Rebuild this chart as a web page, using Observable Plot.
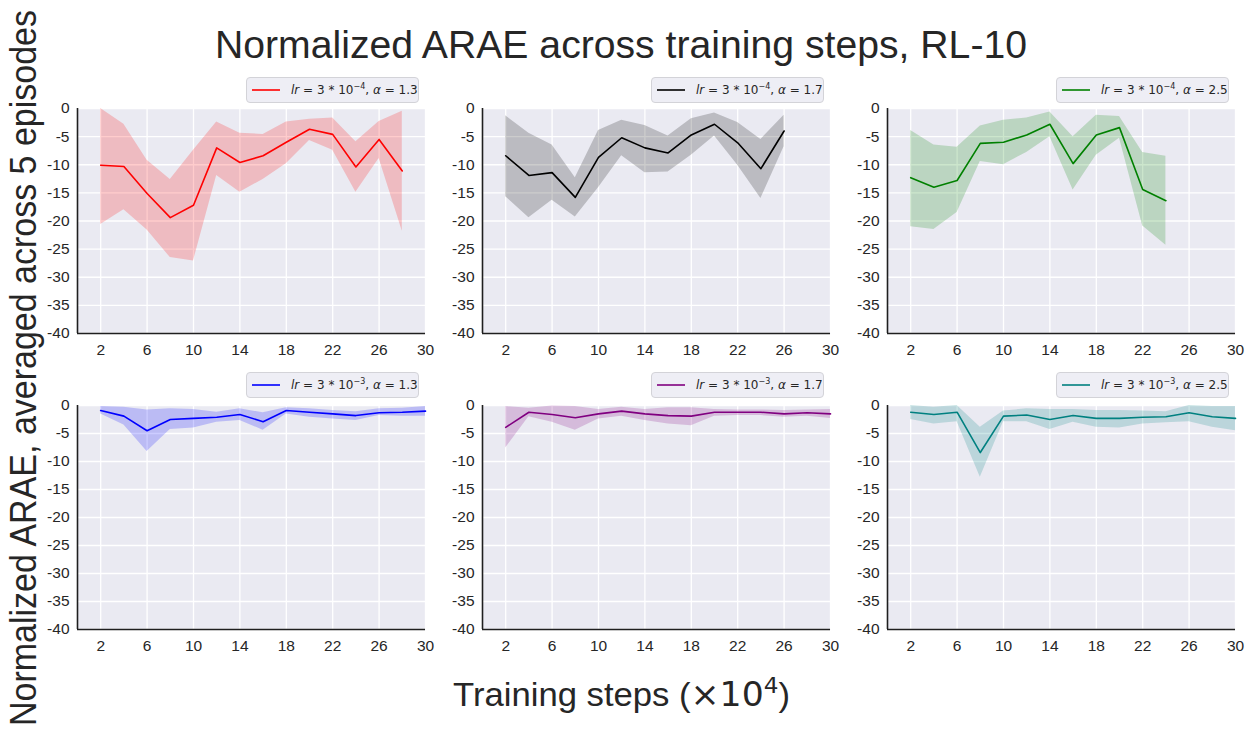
<!DOCTYPE html>
<html>
<head>
<meta charset="utf-8">
<script src="https://cdn.jsdelivr.net/npm/d3@7"></script>
<script src="https://cdn.jsdelivr.net/npm/@observablehq/plot@0.6"></script>
<style>
  html, body { margin: 0; padding: 0; background: #ffffff; }
  #root { position: relative; width: 1252px; height: 731px; overflow: hidden; background: #fff; }
  .panel { position: absolute; }
  .legend {
    position: absolute; box-sizing: border-box; height: 26px;
    background: rgba(234,234,242,0.8); border: 1px solid #d3d3d8; border-radius: 4px;
    font-family: "DejaVu Sans", sans-serif; font-size: 12px; color: #262626;
    display: flex; align-items: center; white-space: nowrap;
  }
  .legend svg { margin-left: 5px; margin-right: 11px; }
  .legend sup { font-size: 8px; vertical-align: 5px; line-height: 0; }
  .legend i { font-style: italic; }
  #overlay { position: absolute; left: 0; top: 0; pointer-events: none; }
</style>
</head>
<body>
<div id="root"></div>
<script>
// ---------------- data ----------------
const xTicks = [2, 6, 10, 14, 18, 22, 26, 30];
const yTicks = [0, -5, -10, -15, -20, -25, -30, -35, -40];

const steps1 = [2, 4, 6, 8, 10, 12, 14, 16, 18, 20, 22, 24, 26, 28];
const mean1  = [-10.1, -10.3, -15.1, -19.4, -17.2, -7.0, -9.6, -8.4, -6.0, -3.7, -4.6, -10.4, -5.5, -11.1];
const upper1 = [0.0, -2.8, -9.2, -12.6, -7.4, -2.4, -4.4, -4.6, -2.4, -1.9, -1.7, -5.9, -2.3, -0.5];
const lower1 = [-20.6, -18.0, -21.6, -26.5, -27.1, -11.9, -14.9, -12.6, -9.8, -5.7, -7.4, -14.9, -8.9, -21.8];

const steps2 = [2, 4, 6, 8, 10, 12, 14, 16, 18, 20, 22, 24, 26];
const mean2  = [-8.4, -11.9, -11.4, -15.8, -8.7, -5.2, -7.0, -7.9, -4.7, -2.8, -6.1, -10.7, -4.0];
const upper2 = [-1.3, -4.4, -6.5, -12.3, -3.9, -2.1, -3.0, -4.9, -1.8, -0.8, -2.5, -5.5, -1.2];
const lower2 = [-15.7, -19.4, -16.3, -19.3, -14.1, -8.4, -11.4, -11.3, -8.3, -4.9, -10.1, -16.0, -6.8];

const steps3 = [2, 4, 6, 8, 10, 12, 14, 16, 18, 20, 22, 24];
const mean3  = [-12.3, -14.0, -12.8, -6.2, -6.0, -4.7, -2.8, -9.8, -4.7, -3.4, -14.4, -16.4];
const upper3 = [-3.9, -6.5, -6.9, -3.1, -2.1, -1.7, -0.6, -5.0, -1.2, -1.4, -7.8, -8.5];
const lower3 = [-21.0, -21.5, -18.5, -9.4, -10.0, -7.8, -5.0, -14.5, -8.3, -5.3, -20.9, -24.3];

const steps4 = [2, 4, 6, 8, 10, 12, 14, 16, 18, 20, 22, 24, 26, 28, 30];
const mean4  = [-0.9, -1.9, -4.5, -2.5, -2.3, -2.1, -1.6, -2.9, -0.9, -1.2, -1.5, -1.8, -1.3, -1.2, -1.0];
const upper4 = [-0.2, -0.3, -0.8, -0.6, -0.7, -1.2, -0.6, -1.3, -0.4, -0.6, -0.9, -1.1, -0.6, -0.5, -0.2];
const lower4 = [-1.5, -3.5, -8.2, -4.3, -4.0, -3.0, -2.7, -4.4, -1.5, -2.1, -2.4, -2.7, -1.8, -1.9, -1.9];

const steps5 = [2, 4, 6, 8, 10, 12, 14, 16, 18, 20, 22, 24, 26, 28, 30];
const mean5  = [-3.9, -1.2, -1.6, -2.2, -1.5, -1.0, -1.5, -1.8, -1.9, -1.2, -1.2, -1.2, -1.5, -1.3, -1.5];
const upper5 = [-0.2, -0.5, -0.1, -0.2, -0.7, -0.3, -0.7, -0.4, -0.4, -0.7, -0.8, -0.8, -0.9, -0.8, -0.7];
const lower5 = [-7.6, -2.0, -3.0, -4.4, -2.4, -1.9, -2.7, -3.3, -3.6, -1.9, -1.8, -1.8, -2.1, -1.9, -2.3];

const steps6 = [2, 4, 6, 8, 10, 12, 14, 16, 18, 20, 22, 24, 26, 28, 30];
const mean6  = [-1.2, -1.6, -1.2, -8.4, -1.9, -1.7, -2.5, -1.8, -2.3, -2.3, -2.1, -2.0, -1.3, -2.0, -2.3];
const upper6 = [0.0, -0.3, 0.0, -3.9, -1.0, -0.6, -0.7, -0.7, -0.9, -0.9, -1.0, -1.1, 0.0, -0.2, -0.2];
const lower6 = [-2.5, -3.3, -2.9, -12.8, -2.9, -2.9, -4.3, -3.0, -3.9, -4.0, -3.3, -3.1, -2.9, -3.9, -4.5];

const colors = ["red", "black", "green", "blue", "purple", "teal"];
const lrLabels = ["3 * 10", "3 * 10", "3 * 10", "3 * 10", "3 * 10", "3 * 10"];
const lrExponents = ["−4", "−4", "−4", "−3", "−3", "−3"];
const alphaLabels = ["1.3", "1.7", "2.5", "1.3", "1.7", "2.5"];

const titleText = "Normalized ARAE across training steps, RL-10";
const yLabelText = "Normalized ARAE, averaged across 5 episodes";

// ---------------- layout ----------------
const series = [
  [steps1, mean1, upper1, lower1],
  [steps2, mean2, upper2, lower2],
  [steps3, mean3, upper3, lower3],
  [steps4, mean4, upper4, lower4],
  [steps5, mean5, upper5, lower5],
  [steps6, mean6, upper6, lower6]
];
const colLeft = [77, 482, 887];
const rowTop = [108, 405];
const rowH = [225, 224];
const plotW = 348;
const ML = 45, MR = 8, MT = 6, MB = 34;
const legendLeft = [246, 651, 1056];
const legendTop = [77, 372];

const root = document.getElementById("root");

series.forEach(([xs, m, up, lo], i) => {
  const col = i % 3, row = Math.floor(i / 3);
  const data = xs.map((x, k) => ({x, mean: m[k], hi: up[k], lo: lo[k]}));
  const color = colors[i];
  const chart = Plot.plot({
    width: plotW + ML + MR,
    height: rowH[row] + MT + MB,
    marginLeft: ML, marginRight: MR, marginTop: MT, marginBottom: MB,
    style: {background: "transparent", overflow: "visible", fontFamily: "'Liberation Sans', Arial, sans-serif"},
    x: {domain: [0, 30], axis: null},
    y: {domain: [-40, 0], axis: null},
    marks: [
      Plot.frame({fill: "#eaeaf2", stroke: null}),
      Plot.gridX(xTicks, {stroke: "#ffffff", strokeOpacity: 1, strokeWidth: 1.3}),
      Plot.gridY(yTicks, {stroke: "#ffffff", strokeOpacity: 1, strokeWidth: 1.3}),
      Plot.areaY(data, {x: "x", y1: "lo", y2: "hi", fill: color, fillOpacity: 0.2}),
      Plot.lineY(data, {x: "x", y: "mean", stroke: color, strokeWidth: 1.6}),
      Plot.ruleX([0], {stroke: "#1f1f1f", strokeWidth: 1.6}),
      Plot.ruleY([-40], {stroke: "#1f1f1f", strokeWidth: 1.6}),
      Plot.axisX(xTicks, {tickSize: 0, tickPadding: 10, fontSize: 15.5, fill: "#262626", label: null, tickFormat: d => String(d)}),
      Plot.axisY(yTicks, {tickSize: 0, tickPadding: 8, fontSize: 15.5, fill: "#262626", label: null, tickFormat: d => String(d)})
    ]
  });
  const wrap = document.createElement("div");
  wrap.className = "panel";
  wrap.style.left = (colLeft[col] - ML) + "px";
  wrap.style.top = (rowTop[row] - MT) + "px";
  wrap.appendChild(chart);
  root.appendChild(wrap);

  // legend
  const lg = document.createElement("div");
  lg.className = "legend";
  lg.style.left = legendLeft[col] + "px";
  lg.style.top = legendTop[row] + "px";
  lg.style.width = "173px";
  lg.innerHTML =
    `<svg width="28" height="10"><line x1="0" y1="5" x2="28" y2="5" stroke="${color}" stroke-width="1.6"/></svg>` +
    `<span><i>lr</i> = ${lrLabels[i]}<sup>${lrExponents[i]}</sup>, <i>α</i> = ${alphaLabels[i]}</span>`;
  root.appendChild(lg);
});

// ---------------- overlay texts ----------------
const ns = "http://www.w3.org/2000/svg";
const ov = document.createElementNS(ns, "svg");
ov.setAttribute("id", "overlay");
ov.setAttribute("width", 1252);
ov.setAttribute("height", 731);
ov.innerHTML = `
  <text x="621" y="58" text-anchor="middle" font-family="'Liberation Sans', Arial, sans-serif"
        font-size="38" fill="#262626" textLength="812" lengthAdjust="spacingAndGlyphs">${titleText}</text>
  <text transform="translate(36,368) rotate(-90)" text-anchor="middle"
        font-family="'Liberation Sans', Arial, sans-serif" font-size="37" fill="#262626"
        textLength="716" lengthAdjust="spacingAndGlyphs">${yLabelText}</text>
  <text x="621.5" y="706" text-anchor="middle" font-family="'Liberation Sans', Arial, sans-serif"
        font-size="33" fill="#262626" textLength="337" lengthAdjust="spacingAndGlyphs">Training steps (<tspan font-family="'DejaVu Sans', sans-serif">×10</tspan><tspan font-family="'DejaVu Sans', sans-serif" font-size="22" dy="-13">4</tspan><tspan dy="13">)</tspan></text>
`;
root.appendChild(ov);
</script>
</body>
</html>
